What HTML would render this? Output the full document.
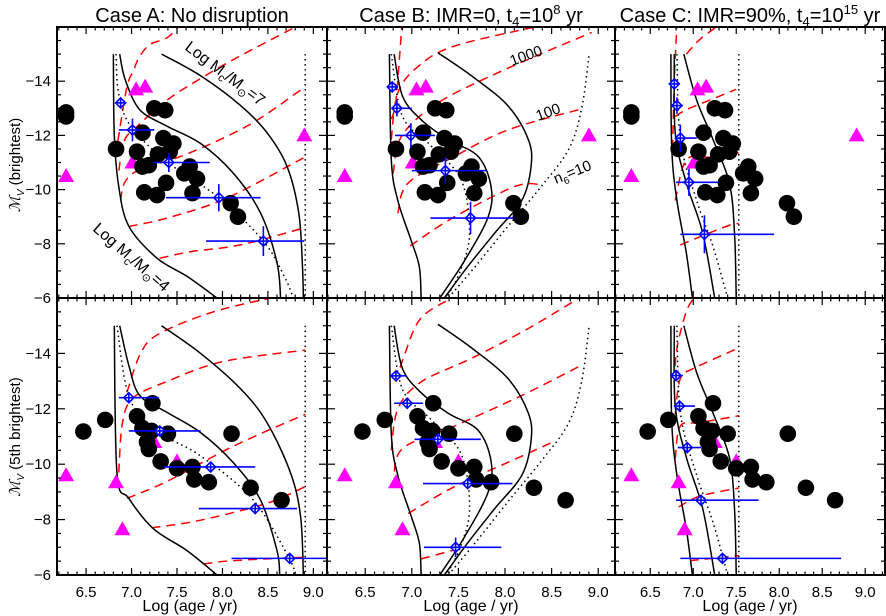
<!DOCTYPE html>
<html><head><meta charset="utf-8"><style>
html,body{margin:0;padding:0;background:#fff;}
svg{display:block;font-family:"Liberation Sans",sans-serif;}
</style></head><body>
<svg id="chart" width="886" height="616" viewBox="0 0 886 616" xmlns="http://www.w3.org/2000/svg">
<rect width="886" height="616" fill="#fff"/>
<g id="defs-g"></g>
<g id="plots"></g>
<g id="frames"></g>
<g id="labels" font-size="15" fill="#000">
 <text x="192" y="22" font-size="20" text-anchor="middle">Case A: No disruption</text>
 <text x="471" y="22" font-size="20" text-anchor="middle">Case B: IMR=0, t<tspan font-size="13" dy="4">4</tspan><tspan dy="-4">=10</tspan><tspan font-size="13" dy="-8">8</tspan><tspan dy="8"> yr</tspan></text>
 <text x="750" y="22" font-size="20" text-anchor="middle">Case C: IMR=90%, t<tspan font-size="13" dy="4">4</tspan><tspan dy="-4">=10</tspan><tspan font-size="13" dy="-8">15</tspan><tspan dy="8"> yr</tspan></text>
 <text transform="translate(20,165) rotate(-90)" font-size="15" text-anchor="middle"><tspan font-family="DejaVu Serif,serif" font-style="italic">ℳ</tspan><tspan font-size="10" dy="4" font-style="italic">V</tspan><tspan dy="-4"> (brightest)</tspan></text>
 <text transform="translate(20,437) rotate(-90)" font-size="15" text-anchor="middle"><tspan font-family="DejaVu Serif,serif" font-style="italic">ℳ</tspan><tspan font-size="10" dy="4" font-style="italic">V</tspan><tspan dy="-4"> (5th brightest)</tspan></text>
 <text x="190" y="611" font-size="16" text-anchor="middle">Log (age / yr)</text>
 <text x="471" y="611" font-size="16" text-anchor="middle">Log (age / yr)</text>
 <text x="750" y="611" font-size="16" text-anchor="middle">Log (age / yr)</text>
 <text transform="translate(184,49) rotate(37)" font-size="16">Log M<tspan font-size="11" dy="4">c</tspan><tspan dy="-4">/M</tspan><tspan font-size="11" dy="4">⊙</tspan><tspan dy="-4">=7</tspan></text>
 <text transform="translate(92,230) rotate(41)" font-size="16">Log M<tspan font-size="11" dy="4">c</tspan><tspan dy="-4">/M</tspan><tspan font-size="11" dy="4">⊙</tspan><tspan dy="-4">=4</tspan></text>
 <text transform="translate(512,66) rotate(-20)" font-size="15">1000</text>
 <text transform="translate(538,121) rotate(-20)" font-size="15">100</text>
 <text transform="translate(556,184) rotate(-22)" font-size="15">n<tspan font-size="10" dy="4">6</tspan><tspan dy="-4">=10</tspan></text>
</g>
</svg>
<script>
// ---- data ----
const topCircX = [6.28,6.28,6.83,7.25,7.37,7.12,7.35,7.46,7.06,7.29,7.42,7.19,7.12,7.64,7.58,7.72,7.38,7.14,7.28,7.67,8.09,8.17];
const topCircY = [-12.85,-12.7,-11.5,-13.0,-12.93,-12.1,-11.9,-11.7,-11.4,-11.3,-11.4,-10.9,-10.85,-10.85,-10.6,-10.4,-10.25,-9.9,-9.8,-9.87,-9.5,-9.0];
const botCircX = [6.47,6.71,7.06,7.23,7.12,7.22,7.40,7.17,7.19,7.32,7.50,7.67,7.69,7.85,8.10,8.31,8.65];
const botCircY = [-11.18,-11.6,-11.73,-12.2,-11.3,-11.2,-11.1,-10.8,-10.55,-10.1,-9.85,-9.9,-9.45,-9.35,-11.1,-9.15,-8.7];
const topTriX = [6.28,7.05,7.15,7.01,8.90];
const topTriY = [-10.5,-13.7,-13.8,-11.0,-12.0];
const botTriX = [6.28,6.83,6.90,7.25,7.50];
const botTriY = [-9.6,-9.35,-7.65,-10.8,-10.1];

const blueATopX = [6.88,7.01,7.41,7.96,8.45];
const blueATopY = [-13.2,-12.2,-11.0,-9.7,-8.1];
const blueATopXlo = [6.82,6.86,7.24,7.38,7.82];
const blueATopXhi = [6.94,7.25,7.86,8.42,8.90];
const blueATopYerr = [0.2,0.42,0.35,0.5,0.55];
const blueBTopX = [6.79,6.84,6.99,7.36,7.63];
const blueBTopY = [-13.79,-13.0,-12.0,-10.7,-8.95];
const blueBTopXlo = [6.74,6.80,6.82,7.0,7.2];
const blueBTopXhi = [6.85,7.0,7.25,7.8,8.09];
const blueBTopYerr = [0.15,0.3,0.45,0.5,0.6];
const blueCTopX = [6.78,6.81,6.85,6.95,7.13];
const blueCTopY = [-13.9,-13.1,-11.9,-10.27,-8.35];
const blueCTopXlo = [6.74,6.75,6.81,6.8,6.85];
const blueCTopXhi = [6.82,6.88,7.04,7.29,7.94];
const blueCTopYerr = [0.1,0.3,0.5,0.5,0.7];
const blueABotX = [6.97,7.31,7.87,8.36,8.74];
const blueABotY = [-12.4,-11.2,-9.9,-8.4,-6.6];
const blueABotXlo = [6.86,6.97,7.35,7.74,8.1];
const blueABotXhi = [7.30,7.76,8.36,8.82,9.6];
const blueABotYerr = [0.15,0.15,0.12,0.2,0.12];
const blueBBotX = [6.83,6.95,7.28,7.60,7.47];
const blueBBotY = [-13.19,-12.2,-10.9,-9.3,-7.0];
const blueBBotXlo = [6.78,6.81,7.03,7.12,7.13];
const blueBBotXhi = [6.94,7.12,7.74,8.08,7.96];
const blueBBotYerr = [0.1,0.1,0.15,0.2,0.35];
const blueCBotX = [6.80,6.84,6.93,7.09,7.34];
const blueCBotY = [-13.2,-12.1,-10.6,-8.7,-6.6];
const blueCBotXlo = [6.77,6.78,6.82,6.8,6.85];
const blueCBotXhi = [6.88,7.02,7.09,7.76,8.72];
const blueCBotYerr = [0.1,0.1,0.1,0.15,0.1];

// model curves [logAge, M_V]
const curveATop1 = [[6.80,-15],[6.81,-12],[6.86,-10.1],[6.97,-8.65],[7.28,-7.47],[7.61,-6.8],[7.94,-6.0]];
const curveATopMed = [[6.83,-15],[6.86,-13.5],[7.0,-12.3],[7.4,-11.0],[7.96,-9.7],[8.45,-8.1],[8.68,-6.8],[8.78,-6.0]];
const curveATop2 = [[6.87,-15],[6.93,-14.06],[7.09,-12.95],[7.39,-12.34],[7.76,-11.7],[8.12,-10.6],[8.42,-9.13],[8.6,-7.3],[8.64,-6.0]];
const curveATop3 = [[7.33,-15],[7.76,-14.2],[8.2,-13.1],[8.49,-12.1],[8.71,-10.86],[8.84,-9.13],[8.88,-7.16],[8.89,-6.0]];
const curveABot1 = [[6.81,-15],[6.84,-9.68],[6.97,-8.77],[7.24,-7.67],[7.61,-6.88],[7.94,-6.0]];
const curveABotMed = [[6.84,-15],[6.98,-12.36],[7.31,-11.14],[7.76,-10.3],[8.34,-8.7],[8.75,-6.5],[8.78,-6.0]];
const curveABot2 = [[6.87,-15],[6.97,-13.57],[7.09,-12.48],[7.39,-11.87],[7.76,-11.14],[8.12,-10.05],[8.42,-8.7],[8.6,-6.88],[8.63,-6.0]];
const curveABot3 = [[7.33,-15],[7.76,-14.0],[8.2,-12.72],[8.49,-11.5],[8.75,-9.68],[8.86,-8.1],[8.89,-6.0]];
const vlineA = [[8.91,-15],[8.91,-6]];
const curveB1 = [[6.76,-15],[6.78,-11.1],[6.85,-9.6],[6.99,-8.15],[7.08,-7.16],[7.10,-6.0]];
const curveBMed = [[6.78,-15],[6.90,-12.7],[7.21,-11.6],[7.53,-10.36],[7.62,-8.4],[7.52,-7.0],[7.37,-6.0]];
const curveB2 = [[6.81,-15],[6.90,-13.45],[7.10,-12.58],[7.39,-11.84],[7.71,-11.23],[7.85,-10.12],[7.82,-9.0],[7.57,-7.4],[7.30,-6.0]];
const curveB3 = [[7.28,-15.05],[7.64,-14.2],[8.03,-13.1],[8.25,-11.85],[8.28,-10.86],[8.18,-9.6],[7.89,-8.4],[7.60,-7.16],[7.35,-6.0]];
const curveBN10 = [[8.9,-14.92],[8.82,-12.95],[8.68,-11.47],[8.39,-10.12],[8.03,-8.64],[7.68,-7.16],[7.39,-6.0]];
const curveC1 = [[6.74,-15],[6.75,-11.5],[6.81,-9.6],[6.92,-7.65],[6.99,-6.0]];
const curveC2 = [[6.78,-15],[6.79,-12.1],[6.92,-10.24],[7.11,-8.4],[7.25,-6.0]];
const curveCMed = [[6.81,-15],[6.85,-11.85],[7.04,-9.6],[7.23,-7.9],[7.40,-6.0]];
const curveC3 = [[6.89,-15],[7.04,-13.3],[7.23,-11.85],[7.42,-10.24],[7.48,-8.4],[7.50,-6.0]];
const vlineC = [[7.53,-15],[7.53,-6]];

// red dashed tracks
const redATop = [
 [[7.31,-7.47],[7.65,-7.71],[8.2,-7.96],[8.89,-8.58]],
 [[6.97,-8.64],[7.39,-8.95],[8.05,-9.69],[8.89,-11.17]],
 [[6.88,-9.6],[6.93,-10.3],[7.1,-10.75],[7.6,-11.3],[8.3,-12.4],[8.89,-13.75]],
 [[6.86,-10.7],[6.92,-11.8],[7.05,-12.3],[7.39,-13.3],[7.76,-14.1],[8.16,-14.87],[8.86,-16.1]],
 [[6.85,-11.8],[6.95,-13.8],[7.02,-14.37],[7.08,-14.86],[7.2,-15.35],[7.39,-15.6],[7.53,-16.05]]
];
const redABot = [
 [[7.79,-6.4],[8.12,-6.52],[8.89,-6.64]],
 [[7.22,-7.7],[7.76,-7.98],[8.49,-8.59],[8.91,-9.19]],
 [[6.95,-8.77],[7.39,-9.38],[8.12,-10.65],[8.91,-11.8]],
 [[6.86,-9.7],[6.9,-11.5],[7.02,-12.4],[7.4,-13.0],[8.0,-13.7],[8.91,-14.12]],
 [[6.95,-12.6],[7.1,-14.0],[7.3,-14.7],[7.9,-15.5],[8.6,-16.05]]
];
const redBTop = [
 [[6.98,-7.92],[7.46,-9.0],[8.11,-10.12],[8.39,-10.18]],
 [[6.85,-9.13],[6.96,-10.24],[7.46,-11.23],[8.03,-12.2],[8.79,-12.95]],
 [[6.80,-10.6],[6.89,-11.97],[7.28,-13.2],[8.0,-14.43],[8.93,-15.8]],
 [[6.78,-11.85],[6.85,-13.57],[7.07,-14.55],[7.46,-15.3],[8.39,-16.05]],
 [[6.78,-12.6],[6.83,-13.3],[6.89,-15.9],[6.9,-16.05]]
];
const redBBot = [
 [[7.10,-6.58],[7.45,-6.9]],
 [[6.96,-8.22],[7.46,-9.19],[8.18,-10.29],[8.50,-10.78]],
 [[6.81,-9.19],[6.89,-10.53],[7.46,-11.38],[8.18,-12.48],[8.82,-13.57]],
 [[6.78,-10.5],[6.85,-12.0],[7.10,-12.97],[7.64,-13.82],[8.25,-14.9],[8.82,-16.05]],
 [[6.83,-12.97],[6.92,-13.94],[7.10,-15.28],[7.46,-16.05]]
];
const redCTop = [
 [[6.85,-7.96],[7.38,-8.64],[7.53,-8.75]],
 [[6.79,-9.6],[6.92,-11.1],[7.2,-11.2],[7.53,-11.35]],
 [[6.79,-12.7],[6.92,-12.95],[7.19,-13.3],[7.50,-13.7]],
 [[6.76,-11.5],[6.78,-14.0],[6.81,-16.05]],
 [[6.92,-15],[7.08,-15.55],[7.29,-16.05]]
];
const redCBot = [
 [[6.96,-6.52],[7.53,-6.7]],
 [[6.83,-8.46],[7.08,-8.85],[7.53,-9.14]],
 [[6.79,-10.2],[6.85,-11.38],[7.08,-11.5],[7.53,-11.75]],
 [[6.79,-11.8],[6.85,-13.1],[7.0,-13.45],[7.53,-14.2]],
 [[6.78,-13.0],[6.81,-14.18],[6.92,-15.52],[7.02,-16.05]]
];

// ---- layout ----
const NS = "http://www.w3.org/2000/svg";
const cols = [{x0:57,x1:327,xmin:6.18,xmax:9.15},{x0:327,x1:615,xmin:6.09,xmax:9.18},{x0:615,x1:885,xmin:6.09,xmax:9.23}];
const rows = [{y0:27,y1:298},{y0:298,y1:575}];
const YMIN=-16, YMAX=-6;
const plots = document.getElementById('plots');
const frames = document.getElementById('frames');
const defsG = document.getElementById('defs-g');
const defs = document.createElementNS(NS,'defs');
defsG.appendChild(defs);

function mk(tag, attrs, parent){
  const e=document.createElementNS(NS,tag);
  for(const k in attrs) e.setAttribute(k,attrs[k]);
  parent.appendChild(e); return e;
}
function sx(c,v){return c.x0+(v-c.xmin)/(c.xmax-c.xmin)*(c.x1-c.x0);}
function sy(r,v){return r.y0+(v-YMIN)/(YMAX-YMIN)*(r.y1-r.y0);}

const caseCols = ['a','b','c'];
const panelSpecs = [
 {c:0,r:0,curves:[curveATop1,curveATop2,curveATop3],dotted:[curveATopMed,vlineA],red:redATop,bx:blueATopX,by:blueATopY,bl:blueATopXlo,bh:blueATopXhi,be:blueATopYerr,cx:topCircX,cy:topCircY,tx:topTriX,ty:topTriY},
 {c:1,r:0,curves:[curveB1,curveB2,curveB3],dotted:[curveBMed,curveBN10],red:redBTop,bx:blueBTopX,by:blueBTopY,bl:blueBTopXlo,bh:blueBTopXhi,be:blueBTopYerr,cx:topCircX,cy:topCircY,tx:topTriX,ty:topTriY},
 {c:2,r:0,curves:[curveC1,curveC2,curveC3],dotted:[curveCMed,vlineC],red:redCTop,bx:blueCTopX,by:blueCTopY,bl:blueCTopXlo,bh:blueCTopXhi,be:blueCTopYerr,cx:topCircX,cy:topCircY,tx:topTriX,ty:topTriY},
 {c:0,r:1,curves:[curveABot1,curveABot2,curveABot3],dotted:[curveABotMed,vlineA],red:redABot,bx:blueABotX,by:blueABotY,bl:blueABotXlo,bh:blueABotXhi,be:blueABotYerr,cx:botCircX,cy:botCircY,tx:botTriX,ty:botTriY},
 {c:1,r:1,curves:[curveB1,curveB2,curveB3],dotted:[curveBMed,curveBN10],red:redBBot,bx:blueBBotX,by:blueBBotY,bl:blueBBotXlo,bh:blueBBotXhi,be:blueBBotYerr,cx:botCircX,cy:botCircY,tx:botTriX,ty:botTriY},
 {c:2,r:1,curves:[curveC1,curveC2,curveC3],dotted:[curveCMed,vlineC],red:redCBot,bx:blueCBotX,by:blueCBotY,bl:blueCBotXlo,bh:blueCBotXhi,be:blueCBotYerr,cx:botCircX,cy:botCircY,tx:botTriX,ty:botTriY}
];

function smoothPath(c,r,pts){
  const P=pts.map(p=>[sx(c,p[0]),sy(r,p[1])]);
  let d='M'+P[0][0].toFixed(1)+','+P[0][1].toFixed(1);
  for(let i=0;i<P.length-1;i++){
    const p0=P[i-1]||P[i], p1=P[i], p2=P[i+1], p3=P[i+2]||P[i+1];
    const c1=[p1[0]+(p2[0]-p0[0])/6, p1[1]+(p2[1]-p0[1])/6];
    const c2=[p2[0]-(p3[0]-p1[0])/6, p2[1]-(p3[1]-p1[1])/6];
    d+=' C'+c1[0].toFixed(1)+','+c1[1].toFixed(1)+' '+c2[0].toFixed(1)+','+c2[1].toFixed(1)+' '+p2[0].toFixed(1)+','+p2[1].toFixed(1);
  }
  return d;
}

panelSpecs.forEach((ps,pi)=>{
  const c=cols[ps.c], r=rows[ps.r];
  const pname='panel-'+caseCols[ps.c]+(ps.r===0?'-brightest':'-5th-brightest');
  const cp=mk('clipPath',{id:'clip'+pi},defs);
  mk('rect',{x:c.x0,y:r.y0,width:c.x1-c.x0,height:r.y1-r.y0},cp);
  const g=mk('g',{'clip-path':'url(#clip'+pi+')'},plots);
  
  
  ps.red.forEach((pts,i)=>{
    const e=mk('path',{d:smoothPath(c,r,pts),fill:'none',stroke:'#ff0000','stroke-width':1.5,'stroke-dasharray':'9,6'},g);
    
    
  });
  ps.curves.forEach((pts,i)=>{
    const e=mk('path',{d:smoothPath(c,r,pts),fill:'none',stroke:'#000','stroke-width':1.5},g);
    
    
  });
  ps.dotted.forEach((pts,i)=>{
    const e=mk('path',{d:smoothPath(c,r,pts),fill:'none',stroke:'#000','stroke-width':1.5,'stroke-dasharray':'1.5,3.5'},g);
    
    
  });
  ps.tx.forEach((v,i)=>{
    const X=sx(c,v), Y=sy(r,ps.ty[i]);
    const e=mk('polygon',{points:(X-8)+','+(Y+6)+' '+(X+8)+','+(Y+6)+' '+X+','+(Y-8),fill:'#ff00ff'},g);
    
    
  });
  ps.cx.forEach((v,i)=>{
    const e=mk('circle',{cx:sx(c,v),cy:sy(r,ps.cy[i]),r:8.3,fill:'#000'},g);
    
    
  });
  ps.bx.forEach((v,i)=>{
    const X=sx(c,v), Y=sy(r,ps.by[i]);
    const bg=mk('g',{stroke:'#0000ff','stroke-width':1.6,fill:'none'},g);
    
    
    mk('line',{x1:sx(c,ps.bl[i]),x2:sx(c,ps.bh[i]),y1:Y,y2:Y},bg);
    mk('line',{x1:X,x2:X,y1:sy(r,ps.by[i]-ps.be[i]),y2:sy(r,ps.by[i]+ps.be[i])},bg);
    mk('polygon',{points:(X-5)+','+Y+' '+X+','+(Y-5)+' '+(X+5)+','+Y+' '+X+','+(Y+5),fill:'#fff'},bg);
    mk('line',{x1:X-5,x2:X+5,y1:Y,y2:Y},bg);
    mk('line',{x1:X,x2:X,y1:Y-5,y2:Y+5},bg);
  });
});

// frames and ticks
const tickMajorX=[6.5,7.0,7.5,8.0,8.5,9.0];
const tickLabelsX=['6.5','7.0','7.5','8.0','8.5','9.0'];
const tickMajorY=[-14,-12,-10,-8,-6];
const tickLabelsY=['−14','−12','−10','−8','−6'];
cols.forEach((c,ci)=>{
  rows.forEach((r,ri)=>{
    const fg=mk('g',{stroke:'#000',fill:'none'},frames);
    
    
    mk('rect',{x:c.x0,y:r.y0,width:c.x1-c.x0,height:r.y1-r.y0,'stroke-width':2},fg);
    for(let k=0;k<=40;k++){
      const v=Math.round((6.1+k*0.1)*10)/10;
      if(v<c.xmin||v>c.xmax) continue;
      const X=sx(c,v); const maj=Math.abs(v*2-Math.round(v*2))<1e-6;
      const L=maj?7:3.5;
      mk('line',{x1:X,x2:X,y1:r.y1,y2:r.y1-L,'stroke-width':1.2},fg);
      mk('line',{x1:X,x2:X,y1:r.y0,y2:r.y0+L,'stroke-width':1.2},fg);
    }
    for(let v=-16;v<=-6;v+=0.5){
      const Y=sy(r,v); const maj=(v%2===0);
      const L=maj?8:4;
      mk('line',{x1:c.x0,x2:c.x0+L,y1:Y,y2:Y,'stroke-width':1.2},fg);
      mk('line',{x1:c.x1,x2:c.x1-L,y1:Y,y2:Y,'stroke-width':1.2},fg);
    }
  });
  tickMajorX.forEach((v,i)=>{
    const t=mk('text',{x:sx(c,v),y:597,'text-anchor':'middle','font-size':15,fill:'#000'},frames);
    t.textContent=tickLabelsX[i];
    
    
  });
});
rows.forEach((r,ri)=>{
  tickMajorY.forEach((v,i)=>{
    const t=mk('text',{x:51,y:sy(r,v)+5,'text-anchor':'end','font-size':15,fill:'#000'},frames);
    t.textContent=tickLabelsY[i];
    
    
  });
});
</script>
</body></html>
